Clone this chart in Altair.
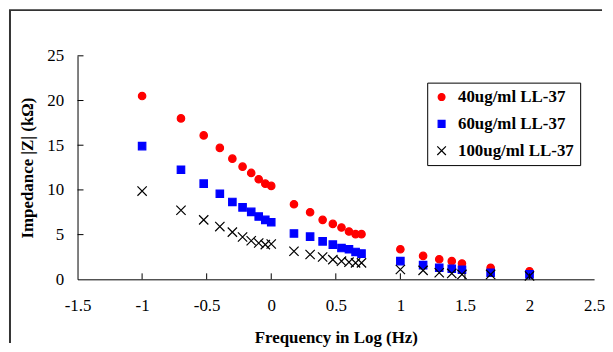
import altair as alt
import pandas as pd

# log10(frequency in Hz)
x_log = [-1.0, -0.699, -0.523, -0.398, -0.301, -0.222, -0.155, -0.097, -0.046, 0.0,
         0.176, 0.301, 0.398, 0.477, 0.544, 0.602, 0.653, 0.699,
         1.0, 1.176, 1.301, 1.398, 1.477, 1.699, 2.0]

series_names = ["40ug/ml LL-37", "60ug/ml LL-37", "100ug/ml LL-37"]

red = [20.5, 18.0, 16.1, 14.7, 13.5, 12.6, 11.9, 11.2, 10.7, 10.45,
       8.4, 7.5, 6.65, 6.2, 5.8, 5.35, 5.05, 5.05,
       3.36, 2.62, 2.25, 2.03, 1.77, 1.29, 0.9]
blue = [14.9, 12.26, 10.7, 9.57, 8.65, 8.05, 7.54, 7.02, 6.65, 6.39,
        5.13, 4.77, 4.25, 3.88, 3.5, 3.36, 3.06, 2.88,
        2.03, 1.59, 1.29, 1.18, 1.07, 0.74, 0.55]
black = [9.87, 7.72, 6.65, 5.9, 5.28, 4.73, 4.32, 4.06, 3.88, 3.95,
         3.14, 2.77, 2.5, 2.2, 2.03, 1.92, 1.84, 1.84,
         1.1, 1.0, 0.74, 0.66, 0.55, 0.55, 0.37]

x_labels = [-1.5, -1, -0.5, 0, 0.5, 1, 1.5, 2, 2.5]
y_labels = [0, 5, 10, 15, 20, 25]
x_ticks = [-1, -0.5, 0, 0.5, 1, 1.5, 2]
y_ticks = [5, 10, 15, 20, 25]

rows = []
for name, vals in zip(series_names, [red, blue, black]):
    for xv, yv in zip(x_log, vals):
        rows.append({"x": xv, "y": yv, "series": name})
df = pd.DataFrame(rows)

W, H = 520, 225
FONT = "Liberation Serif"

xscale = alt.Scale(domain=[-1.5, 2.5], nice=False, zero=False)
yscale = alt.Scale(domain=[0, 25], nice=False)
color_scale = alt.Scale(domain=series_names, range=["#FF0000", "#0000FF", "#000000"])
shape_scale = alt.Scale(domain=series_names,
                        range=["circle", "square", "M-1.25,-1.25L1.25,1.25M-1.25,1.25L1.25,-1.25"])

xaxis = alt.Axis(values=x_labels, title="Frequency in Log (Hz)",
                 labelExpr="'' + datum.value", tickSize=0, grid=False,
                 domainColor="black", labelFont=FONT, labelFontSize=17,
                 labelColor="black", labelPadding=18, labelFlush=False,
                 titleFont=FONT, titleFontSize=17, titleFontWeight="bold",
                 titleColor="black", titlePadding=17)
yaxis = alt.Axis(values=y_labels, title="Impedance |Z| (kΩ)",
                 tickSize=0, grid=False, domainColor="black",
                 labelFont=FONT, labelFontSize=17, labelColor="black",
                 labelPadding=14, labelFlush=False,
                 titleFont=FONT, titleFontSize=17, titleFontWeight="bold",
                 titleColor="black", titlePadding=10)

leg = alt.Legend(title=None, orient="none", legendX=352, legendY=27,
                 strokeColor="black", padding=6, fillColor="white",
                 labelFont=FONT, labelFontSize=17, labelFontWeight="bold",
                 labelColor="black", symbolSize=48, rowPadding=9, labelOffset=8,
                 symbolStrokeWidth=1.2)

points = alt.Chart(df).mark_point(filled=True, strokeWidth=1.2, opacity=1, size=56).encode(
    x=alt.X("x:Q", scale=xscale, axis=xaxis),
    y=alt.Y("y:Q", scale=yscale, axis=yaxis),
    color=alt.Color("series:N", scale=color_scale, legend=leg),
    stroke=alt.Stroke("series:N", scale=color_scale, legend=leg),
    shape=alt.Shape("series:N", scale=shape_scale, legend=leg),
)

xt = alt.Chart(pd.DataFrame({"x": x_ticks})).mark_rule(color="black", strokeWidth=1).encode(
    x=alt.X("x:Q", scale=xscale, axis=xaxis),
    y=alt.value(H), y2=alt.value(H - 6))
yt = alt.Chart(pd.DataFrame({"y": y_ticks})).mark_rule(color="black", strokeWidth=1).encode(
    y=alt.Y("y:Q", scale=yscale, axis=yaxis),
    x=alt.value(0), x2=alt.value(6))

one = pd.DataFrame({"a": [0]})
frame_left = alt.Chart(one).mark_rule(color="#333333", strokeWidth=2).encode(
    x=alt.value(-68), y=alt.value(-46), y2=alt.value(289))
frame_top = alt.Chart(one).mark_rule(color="#333333", strokeWidth=2).encode(
    x=alt.value(-69), x2=alt.value(528), y=alt.value(-46))

chart = alt.layer(points, xt, yt, frame_left, frame_top).properties(
    width=W, height=H, padding=0
).configure_view(stroke=None)

chart.save("out.html", embed_options={"renderer": "svg", "actions": False})
